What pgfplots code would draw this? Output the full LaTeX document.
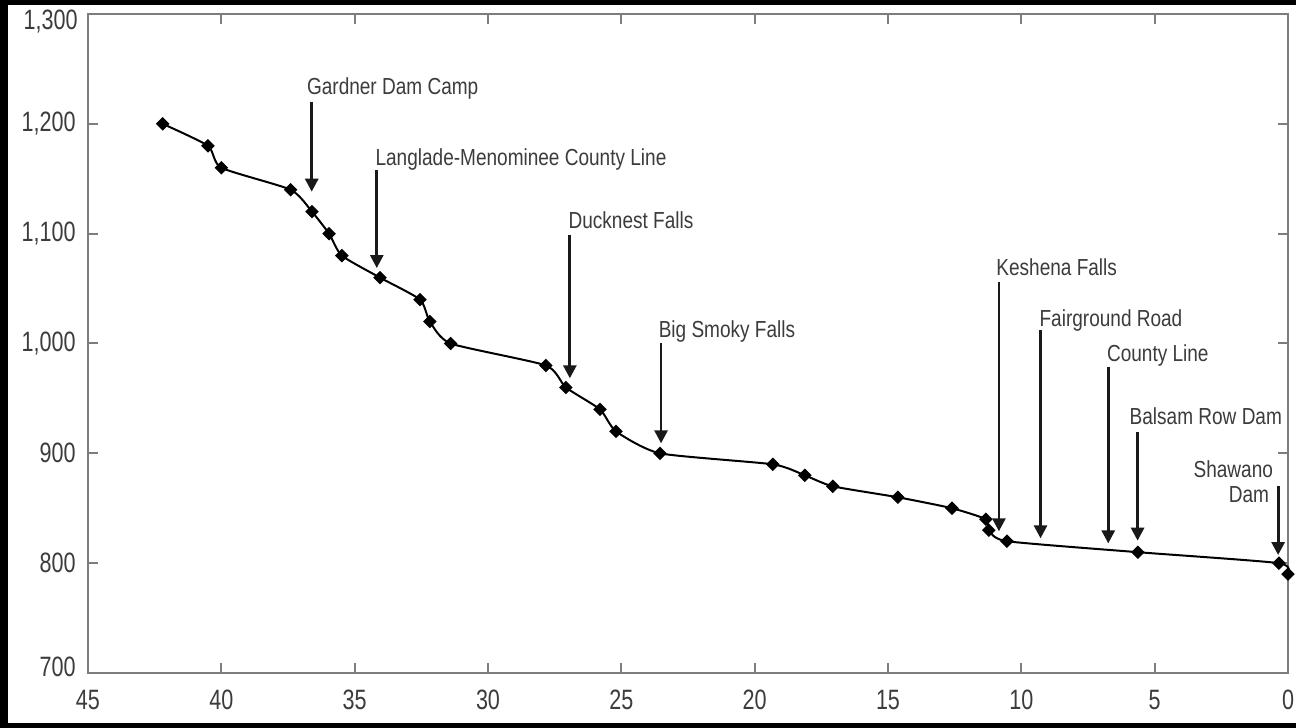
\documentclass[border=0pt]{standalone}
\usepackage{fontspec}
\setmainfont{Liberation Sans}[FakeStretch=0.82]
\newfontfamily\numfont{Liberation Sans}[FakeStretch=0.77]
\usepackage{pgfplots}
\pgfplotsset{compat=1.18}
\usetikzlibrary{arrows.meta}
\definecolor{axgray}{RGB}{125,125,125}
\definecolor{txtgray}{RGB}{60,60,60}
\definecolor{arrcol}{RGB}{25,25,25}
\begin{document}
\begin{tikzpicture}[
  lab/.style={font=\fontsize{11.6bp}{13bp}\selectfont, text=txtgray, inner sep=0pt},
  arr/.style={line width=1.4bp, draw=arrcol, -{Triangle[length=6.5bp,width=6.5bp]}},
  numlab/.style={font=\numfont\fontsize{14bp}{16bp}\selectfont, text=txtgray, inner sep=0pt},
]
\useasboundingbox (0,0) rectangle (648bp,364bp);
\fill[black] (0,0) rectangle (648bp,364bp);
\fill[white] (4bp,2.5bp) rectangle (648bp,361.5bp);
\begin{axis}[
  at={(44bp,27.5bp)}, anchor=south west,
  scale only axis, width=600bp, height=329.5bp,
  xmin=0, xmax=45, ymin=700, ymax=1300,
  x dir=reverse,
  xtick={0,5,...,45}, xticklabels={0,5,10,15,20,25,30,35,40,45},
  ytick={700,800,...,1300},
  yticklabels={{},800,900,{1,000},{1,100},{1,200},{}},
  tick align=inside, major tick length=5bp,
  axis line style={axgray, line width=1bp},
  every tick/.style={axgray, line width=1bp},
  tick label style={font=\numfont\fontsize{14bp}{16bp}\selectfont, text=txtgray, inner sep=0pt},
  xticklabel style={anchor=north, yshift=-8.5bp},
  yticklabel style={anchor=east, xshift=-6bp},
  clip=false,
]
\addplot[black, line width=1bp, smooth, tension=0.35,
  mark=square*, mark size=1.9bp, mark options={rotate=45, solid, fill=black}]
  coordinates {
  (42.2,1200) (40.5,1180) (40.0,1160) (37.4,1140) (36.6,1120)
  (35.96,1100) (35.48,1080) (34.05,1060) (32.55,1040) (32.18,1020)
  (31.4,1000) (27.83,980) (27.08,960) (25.8,940) (25.2,920)
  (23.55,900) (19.32,890) (18.12,880) (17.07,870) (14.63,860)
  (12.6,850) (11.33,840) (11.22,830) (10.54,820) (5.63,810)
  (0.34,800) (0.0,790)
  };

\node[numlab, anchor=east, xshift=-5bp] at (axis cs:45,1292.7) {1,300};
\node[numlab, anchor=east, xshift=-6bp] at (axis cs:45,705.5) {700};

\draw[arr] (axis cs:36.61,1220.2) -- (axis cs:36.61,1138.2);
\node[lab, anchor=base west] at (axis cs:36.80,1226.3) {Gardner Dam Camp};

\draw[arr] (axis cs:34.17,1158) -- (axis cs:34.17,1068.7);
\node[lab, anchor=base west] at (axis cs:34.23,1162.5) {Langlade-Menominee County Line};

\draw[arr] (axis cs:26.93,1098.8) -- (axis cs:26.93,968.3);
\node[lab, anchor=base west] at (axis cs:26.99,1104.9) {Ducknest Falls};

\draw[arr] (axis cs:23.51,1000.2) -- (axis cs:23.51,909.1);
\node[lab, anchor=base west] at (axis cs:23.61,1005.6) {Big Smoky Falls};

\draw[arr] (axis cs:10.84,1056.3) -- (axis cs:10.84,829);
\node[lab, anchor=base west] at (axis cs:10.95,1061.5) {Keshena Falls};

\draw[arr] (axis cs:9.28,1012.3) -- (axis cs:9.28,822.6);
\node[lab, anchor=base west] at (axis cs:9.33,1015.9) {Fairground Road};

\draw[arr] (axis cs:6.74,978.9) -- (axis cs:6.74,818);
\node[lab, anchor=base west] at (axis cs:6.80,983.4) {County Line};

\draw[arr] (axis cs:5.64,919.7) -- (axis cs:5.64,820.5);
\node[lab, anchor=base west] at (axis cs:5.95,925.8) {Balsam Row Dam};

\draw[arr] (axis cs:0.37,870.2) -- (axis cs:0.37,807.4);
\node[lab, anchor=base east, text height=8.4bp, text depth=0pt] at (axis cs:0.55,878) {Shawano};
\node[lab, anchor=base east, text height=8.4bp, text depth=0pt] at (axis cs:0.70,855.5) {Dam};
\end{axis}
\end{tikzpicture}
\end{document}
